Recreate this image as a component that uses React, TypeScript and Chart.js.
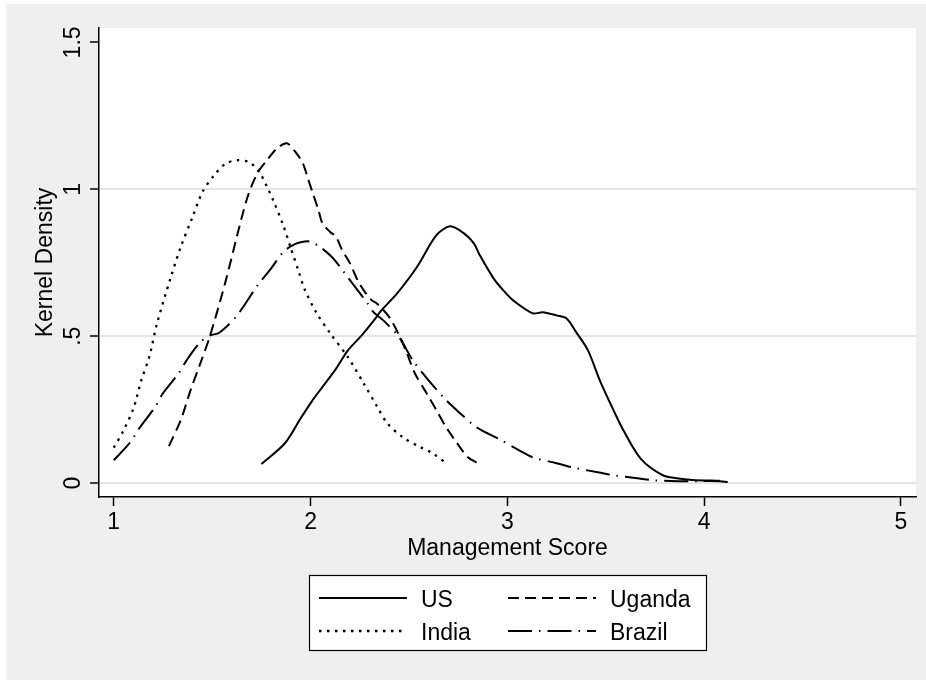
import React, { useEffect, useRef } from "react";
import { Chart, registerables } from "chart.js";

Chart.register(...registerables);

const FONT = "'Liberation Sans', Arial, Helvetica, sans-serif";

// ---- data ----
const seriesLabels = ["US", "Uganda", "India", "Brazil"];

const usX = [1.75, 1.87, 1.95, 2.01, 2.06, 2.13, 2.19, 2.26, 2.33, 2.36, 2.44, 2.54, 2.64, 2.71, 2.78, 2.83, 2.86, 2.93, 2.98, 3.03, 3.13, 3.18, 3.25, 3.30, 3.35, 3.41, 3.47, 3.54, 3.59, 3.68, 3.79, 3.86, 3.94, 4.08];
const usY = [0.065, 0.136, 0.221, 0.282, 0.327, 0.39, 0.452, 0.503, 0.561, 0.588, 0.646, 0.735, 0.844, 0.874, 0.85, 0.816, 0.776, 0.697, 0.656, 0.622, 0.578, 0.582, 0.571, 0.561, 0.514, 0.452, 0.35, 0.248, 0.18, 0.082, 0.027, 0.017, 0.011, 0.008];

const ugandaX = [1.28, 1.34, 1.39, 1.44, 1.49, 1.57, 1.63, 1.68, 1.73, 1.78, 1.83, 1.88, 1.92, 1.96, 1.99, 2.01, 2.04, 2.06, 2.10, 2.13, 2.16, 2.20, 2.24, 2.28, 2.31, 2.34, 2.40, 2.455, 2.49, 2.53, 2.59, 2.64, 2.69, 2.745, 2.80, 2.85];
const ugandaY = [0.126, 0.214, 0.316, 0.408, 0.503, 0.691, 0.851, 0.974, 1.055, 1.1, 1.14, 1.157, 1.13, 1.09, 1.03, 0.99, 0.93, 0.885, 0.855, 0.838, 0.794, 0.749, 0.69, 0.647, 0.623, 0.61, 0.565, 0.497, 0.442, 0.374, 0.306, 0.248, 0.19, 0.136, 0.088, 0.068];

const indiaX = [1.0, 1.05, 1.1, 1.14, 1.18, 1.22, 1.29, 1.34, 1.4, 1.45, 1.51, 1.57, 1.63, 1.69, 1.74, 1.78, 1.81, 1.86, 1.9, 1.94, 1.97, 2.03, 2.1, 2.19, 2.27, 2.34, 2.39, 2.47, 2.56, 2.62, 2.69];
const indiaY = [0.121, 0.18, 0.254, 0.35, 0.429, 0.544, 0.701, 0.803, 0.905, 0.99, 1.048, 1.088, 1.099, 1.092, 1.058, 1.007, 0.963, 0.88, 0.8, 0.72, 0.66, 0.58, 0.51, 0.429, 0.34, 0.259, 0.204, 0.156, 0.122, 0.102, 0.068];

const brazilX = [1.0, 1.08, 1.13, 1.21, 1.25, 1.33, 1.37, 1.44, 1.49, 1.53, 1.57, 1.62, 1.67, 1.73, 1.8, 1.86, 1.91, 1.95, 2.0, 2.05, 2.11, 2.17, 2.24, 2.29, 2.32, 2.37, 2.45, 2.52, 2.6, 2.69, 2.76, 2.83, 2.87, 2.95, 3.06, 3.13, 3.25, 3.33, 3.46, 3.54, 3.66, 3.74, 3.87, 4.08, 4.12];
const brazilY = [0.078, 0.136, 0.187, 0.259, 0.306, 0.374, 0.418, 0.48, 0.503, 0.51, 0.531, 0.565, 0.612, 0.673, 0.731, 0.786, 0.81, 0.82, 0.822, 0.803, 0.769, 0.718, 0.656, 0.612, 0.582, 0.554, 0.497, 0.418, 0.35, 0.282, 0.238, 0.197, 0.18, 0.153, 0.112, 0.088, 0.068, 0.054, 0.037, 0.027, 0.017, 0.01, 0.007, 0.007, 0.004];

const xTicks = [1, 2, 3, 4, 5];
const yTicks = [0, 0.5, 1, 1.5];
const yTickLabels = ["0", ".5", "1", "1.5"];

const xTitle = "Management Score";
const yTitle = "Kernel Density";

const seriesX = [usX, ugandaX, indiaX, brazilX];
const seriesY = [usY, ugandaY, indiaY, brazilY];
const seriesDash: number[][] = [[], [11, 6], [2.5, 5.5], [24, 7, 1.5, 7]];
const seriesWidth = [2, 2, 2.3, 2];

const bgPlugin = {
  id: "stataBg",
  beforeDraw(chart: any) {
    const { ctx, chartArea: a } = chart;
    ctx.save();
    ctx.fillStyle = "#ffffff";
    ctx.fillRect(0, 0, chart.width, chart.height);
    ctx.fillStyle = "#efefef";
    ctx.fillRect(6, 4, chart.width - 6, chart.height - 4);
    ctx.fillStyle = "#ffffff";
    ctx.fillRect(a.left, a.top, a.right - a.left, a.bottom - a.top);
    ctx.restore();
  },
};

const legendPlugin = {
  id: "stataLegend",
  afterDraw(chart: any) {
    const { ctx, chartArea: a } = chart;
    const cx = (a.left + a.right) / 2;
    const boxW = 398;
    const boxH = 76;
    const top = 575;
    const left = Math.round(cx - boxW / 2);
    ctx.save();
    ctx.fillStyle = "#ffffff";
    ctx.fillRect(left, top, boxW, boxH);
    ctx.strokeStyle = "#000000";
    ctx.lineWidth = 1.2;
    ctx.strokeRect(left + 0.5, top + 0.5, boxW - 1, boxH - 1);
    chart.data.datasets.forEach((ds: any, i: number) => {
      const col = i % 2;
      const row = Math.floor(i / 2);
      const lx = left + 10 + col * 189;
      const ly = top + 23 + row * 33;
      ctx.beginPath();
      ctx.setLineDash(ds.borderDash || []);
      ctx.lineWidth = ds.borderWidth || 2;
      ctx.strokeStyle = "#000000";
      ctx.moveTo(lx, ly);
      ctx.lineTo(lx + 88, ly);
      ctx.stroke();
      ctx.setLineDash([]);
      ctx.fillStyle = "#000000";
      ctx.font = `23px ${FONT}`;
      ctx.textAlign = "left";
      ctx.textBaseline = "alphabetic";
      ctx.fillText(ds.label, lx + 102, ly + 9);
    });
    ctx.restore();
  },
};

export default function App() {
  const ref = useRef<HTMLCanvasElement | null>(null);

  useEffect(() => {
    if (!ref.current) return;
    const datasets = seriesLabels.map((label, i) => ({
      label,
      data: seriesX[i].map((x, j) => ({ x, y: seriesY[i][j] })),
      borderColor: "#000000",
      borderWidth: seriesWidth[i],
      borderDash: seriesDash[i],
      borderCapStyle: "butt" as const,
      pointRadius: 0,
      fill: false,
      tension: 0.3,
    }));

    const chart = new Chart(ref.current, {
      type: "line",
      data: { datasets },
      options: {
        responsive: false,
        animation: false,
        devicePixelRatio: 1,
        layout: { padding: { top: 28, right: 10, bottom: 118, left: 0 } },
        plugins: { legend: { display: false }, tooltip: { enabled: false } },
        scales: {
          x: {
            type: "linear",
            min: 0.925,
            max: 5.077,
            afterBuildTicks: (s: any) => {
              s.ticks = xTicks.map((v) => ({ value: v }));
            },
            afterFit: (s: any) => {
              s.height = 65;
            },
            grid: {
              drawOnChartArea: false,
              drawTicks: true,
              tickLength: 9,
              tickColor: "#000000",
              tickWidth: 1.5,
            },
            border: { display: true, color: "#000000", width: 1.5 },
            ticks: {
              padding: 3,
              color: "#000000",
              font: { family: FONT, size: 23 },
              maxRotation: 0,
              autoSkip: false,
              callback: (v: any) => String(v),
            },
            title: {
              display: true,
              text: xTitle,
              color: "#000000",
              font: { family: FONT, size: 23 },
              padding: { top: 0, bottom: 0 },
            },
          },
          y: {
            type: "linear",
            min: -0.047,
            max: 1.549,
            afterBuildTicks: (s: any) => {
              s.ticks = yTicks.map((v) => ({ value: v }));
            },
            afterFit: (s: any) => {
              s.width = 99;
            },
            grid: {
              color: (c: any) => (c.tick && c.tick.value === 1.5 ? "rgba(0,0,0,0)" : "#e4e4e4"),
              lineWidth: 2,
              drawTicks: true,
              tickLength: 9,
              tickColor: "#000000",
              tickWidth: 1.5,
            },
            border: { display: true, color: "#000000", width: 1.5 },
            ticks: {
              padding: 0,
              crossAlign: "center",
              minRotation: 90,
              maxRotation: 90,
              color: "#000000",
              font: { family: FONT, size: 23 },
              autoSkip: false,
              callback: (v: any) => {
                const k = yTicks.indexOf(Number(v));
                return k >= 0 ? yTickLabels[k] : "";
              },
            },
            title: {
              display: true,
              text: yTitle,
              color: "#000000",
              font: { family: FONT, size: 23 },
              padding: { top: 32, bottom: 0 },
            },
          },
        },
      },
      plugins: [bgPlugin, legendPlugin],
    });
    return () => chart.destroy();
  }, []);

  return (
    <div style={{ position: "absolute", left: 0, top: 0, width: 926, height: 680 }}>
      <canvas ref={ref} width={926} height={680} style={{ display: "block" }} />
    </div>
  );
}
